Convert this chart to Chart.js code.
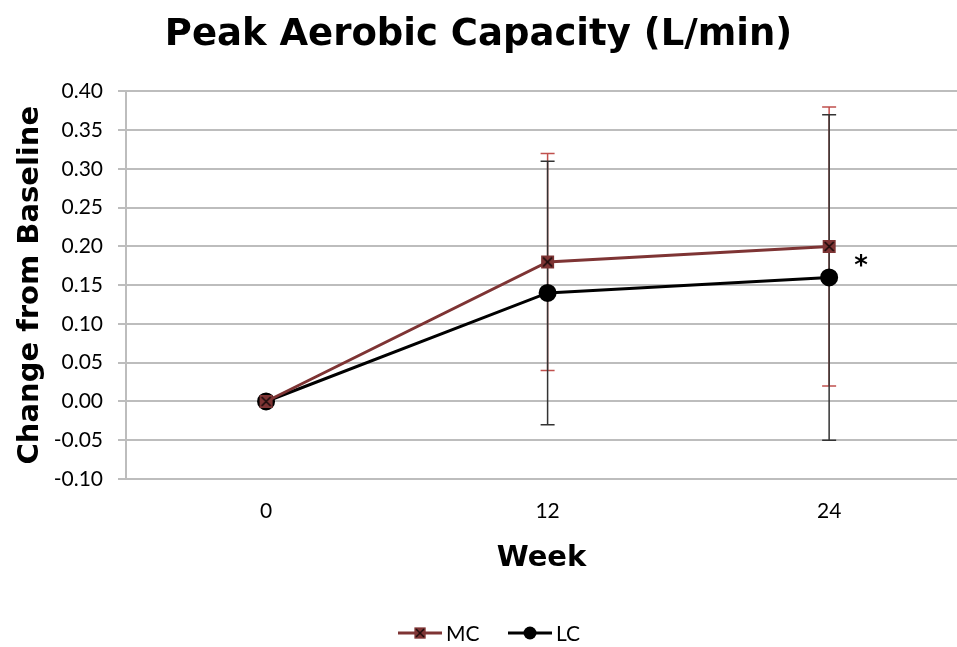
<!DOCTYPE html>
<html>
<head>
<meta charset="utf-8">
<script src="https://cdn.jsdelivr.net/npm/chart.js@4.4.1/dist/chart.umd.min.js"></script>
<style>
  html, body { margin: 0; padding: 0; background: #fff; overflow: hidden; }
  #wrap { width: 957px; height: 647px; }
  canvas { display: block; }
</style>
</head>
<body>
<div id="wrap"><canvas id="aerobicChart"></canvas></div>
<script>
// data
const weeks = [0, 12, 24];
const seriesNames = ['MC', 'LC'];
const mcValues = [0.00, 0.18, 0.20];
const mcErrors = [0, 0.14, 0.18];
const lcValues = [0.00, 0.14, 0.16];
const lcErrors = [0, 0.17, 0.21];
const yTickMin = -0.10;
const yTickMax = 0.40;
const yTickStep = 0.05;
// significance marker next to week 24
const starWeek = 24;
const starValue = 0.18;

const mcColor = '#7e3434';
const mcErrColor = '#c0504d';
const lcColor = '#000000';
const lcErrColor = '#333333';
const gridColor = '#bdbdbd';
const tickFont = 'Lato';
const boldFont = '"DejaVu Sans", sans-serif';

// square with an X, like the Excel marker
function makeCrossBox(size) {
    const c = document.createElement('canvas');
    c.width = size; c.height = size;
    const g = c.getContext('2d');
    g.fillStyle = mcColor;
    g.fillRect(1, 1, size - 2, size - 2);
    g.strokeStyle = '#1a0a0a';
    g.lineWidth = 1.6;
    g.beginPath();
    g.moveTo(3, 3); g.lineTo(size - 3, size - 3);
    g.moveTo(size - 3, 3); g.lineTo(3, size - 3);
    g.stroke();
    return c;
}
const crossBox = makeCrossBox(15);

const errorBars = {
    id: 'errorBars',
    beforeDatasetsDraw(chart) {
        const ctx = chart.ctx;
        const x = chart.scales.x, y = chart.scales.y;
        const sets = [
            { vals: mcValues, errs: mcErrors, color: mcErrColor },
            { vals: lcValues, errs: lcErrors, color: lcErrColor }
        ];
        ctx.save();
        sets.forEach(s => {
            ctx.strokeStyle = s.color;
            ctx.lineWidth = 1.5;
            weeks.forEach((w, i) => {
                if (!s.errs[i]) return;
                const px = x.getPixelForValue(w);
                const top = y.getPixelForValue(s.vals[i] + s.errs[i]);
                const bot = y.getPixelForValue(s.vals[i] - s.errs[i]);
                ctx.beginPath();
                ctx.moveTo(px, top); ctx.lineTo(px, bot);
                ctx.moveTo(px - 7, top); ctx.lineTo(px + 7, top);
                ctx.moveTo(px - 7, bot); ctx.lineTo(px + 7, bot);
                ctx.stroke();
            });
        });
        ctx.restore();
    },
    afterDraw(chart) {
        const ctx = chart.ctx;
        const x = chart.scales.x, y = chart.scales.y;
        ctx.save();
        // asterisk
        ctx.fillStyle = '#000';
        ctx.font = 'bold 26px ' + boldFont;
        ctx.textAlign = 'center';
        ctx.textBaseline = 'middle';
        ctx.fillText('*', x.getPixelForValue(starWeek) + 32, y.getPixelForValue(starValue) + 5);

        // legend: line + marker + name
        const ly = 633;
        const items = [
            { name: seriesNames[0], color: mcColor, x0: 398 },
            { name: seriesNames[1], color: lcColor, x0: 508 }
        ];
        ctx.font = '21px ' + tickFont;
        ctx.textAlign = 'left';
        items.forEach((it, i) => {
            ctx.strokeStyle = it.color;
            ctx.lineWidth = 3;
            ctx.beginPath();
            ctx.moveTo(it.x0, ly); ctx.lineTo(it.x0 + 44, ly);
            ctx.stroke();
            if (i === 0) {
                ctx.drawImage(crossBox, it.x0 + 22 - 6.5, ly - 6.5, 13, 13);
            } else {
                ctx.fillStyle = it.color;
                ctx.beginPath();
                ctx.arc(it.x0 + 22, ly, 6.5, 0, Math.PI * 2);
                ctx.fill();
            }
            ctx.fillStyle = '#000';
            ctx.fillText(it.name, it.x0 + 48, ly + 1);
        });
        ctx.restore();
    }
};

const ctx = document.getElementById('aerobicChart').getContext('2d');
const aerobicChart = new Chart(ctx, {
    type: 'line',
    data: {
        datasets: [{
            label: seriesNames[0],
            data: weeks.map((w, i) => ({ x: w, y: mcValues[i] })),
            borderColor: mcColor,
            borderWidth: 3,
            pointStyle: crossBox,
            pointRadius: 7,
            tension: 0
        }, {
            label: seriesNames[1],
            data: weeks.map((w, i) => ({ x: w, y: lcValues[i] })),
            borderColor: lcColor,
            backgroundColor: lcColor,
            borderWidth: 3,
            pointStyle: 'circle',
            pointRadius: 7.5,
            tension: 0
        }]
    },
    options: {
        responsive: true,
        maintainAspectRatio: false,
        animation: false,
        layout: { autoPadding: false, padding: { left: 0, right: 0, top: 0, bottom: 58 } },
        plugins: {
            legend: { display: false },
            tooltip: { enabled: false },
            title: {
                display: true,
                text: 'Peak Aerobic Capacity (L/min)',
                color: '#000',
                font: { family: boldFont, size: 37, weight: 'bold', lineHeight: 1.2 },
                padding: { top: 13, bottom: 34 }
            }
        },
        scales: {
            x: {
                type: 'linear',
                min: -5.97,
                max: 29.45,
                afterBuildTicks(scale) {
                    scale.ticks = weeks.map(w => ({ value: w }));
                },
                afterFit(scale) {
                    scale.height = 110;
                    scale.paddingLeft = 0;
                    scale.paddingRight = 0;
                },
                ticks: {
                    color: '#000',
                    font: { family: tickFont, size: 21 },
                    padding: 20,
                    callback: v => String(v)
                },
                grid: { display: false, drawTicks: false },
                border: { display: true, color: gridColor, width: 2 },
                title: {
                    display: true,
                    text: 'Week',
                    color: '#000',
                    font: { family: boldFont, size: 29, weight: 'bold', lineHeight: 1.2 },
                    padding: { top: 0, bottom: 13 }
                }
            },
            y: {
                min: yTickMin,
                max: yTickMax,
                afterFit(scale) { scale.width = 126; },
                ticks: {
                    stepSize: yTickStep,
                    color: '#000',
                    font: { family: tickFont, size: 21 },
                    padding: 15,
                    callback: v => Number(v).toFixed(2)
                },
                grid: { color: gridColor, lineWidth: 2, tickLength: 8 },
                border: { display: true, color: gridColor, width: 2 },
                title: {
                    display: true,
                    text: 'Change from Baseline',
                    color: '#000',
                    font: { family: boldFont, size: 29, weight: 'bold', lineHeight: 1.2 },
                    padding: { top: 13, bottom: 0 }
                }
            }
        }
    },
    plugins: [errorBars]
});
</script>
</body>
</html>
